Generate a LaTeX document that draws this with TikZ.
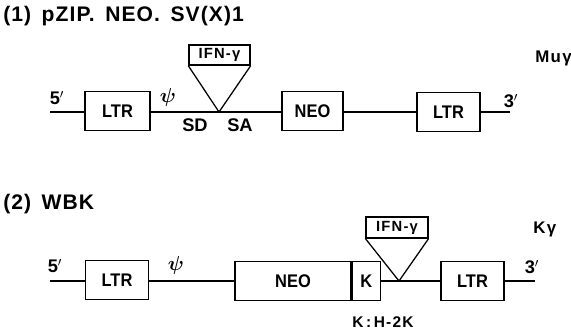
\documentclass[tikz,border=0pt]{standalone}
\usepackage{amsmath}
\usepackage{fontspec}
\setmainfont{Liberation Sans}
\newfontfamily\boxfont{Liberation Sans}[FakeStretch=0.9]
\newfontfamily\widefont{Liberation Sans}[LetterSpace=8]
\newfontfamily\titlefont{Liberation Sans}[LetterSpace=5]
\usetikzlibrary{positioning}

\tikzset{
  genebox/.style={draw, line width=0.9pt, minimum height=0.96cm, inner sep=0pt, font=\boxfont\bfseries\fontsize{13}{15}\selectfont},
  insertbox/.style={draw, line width=0.9pt, minimum width=1.53cm, minimum height=0.5cm, inner sep=0pt, font=\widefont\bfseries\fontsize{10.5}{12}\selectfont},
  dna/.style={line width=0.9pt},
  lbl/.style={inner sep=0pt, font=\bfseries\fontsize{13}{15}\selectfont},
  title/.style={inner sep=0pt, anchor=west, font=\titlefont\bfseries\fontsize{15}{17}\selectfont},
  tag/.style={inner sep=0pt, font=\widefont\bfseries\fontsize{12}{14}\selectfont}
}

\begin{document}
\begin{tikzpicture}[x=0.025cm, y=-0.025cm]
  \useasboundingbox (0,0) rectangle (571,335);

  % (1) pZIP.NEO.SV(X)1
  \node[title] (titleA) at (3,16) {(1)\enspace pZIP.\enspace NEO.\enspace SV(X)1};
  \node[tag, anchor=west] (nameA) at (535,58) {Muγ};

  \coordinate (startA) at (50,112);
  \coordinate (endA) at (510,112);
  \coordinate (apexA) at (219,112);
  \node[genebox, minimum width=1.62cm] (ltrA) at (117.5,111) {LTR};
  \node[genebox, minimum width=1.52cm] (neoA) at (312.5,111) {NEO};
  \node[genebox, minimum width=1.57cm] (ltrB) at (448.5,112) {LTR};
  \node[insertbox] (ifnA) at (219.5,55) {IFN-γ};

  \draw[dna] (startA) -- (ltrA.west |- startA);
  \draw[dna] (ltrA.east |- startA) -- (neoA.west |- startA);
  \draw[dna] (neoA.east |- startA) -- (ltrB.west |- startA);
  \draw[dna] (ltrB.east |- startA) -- (endA);
  \draw[line width=0.9pt] (ifnA.south west) -- (apexA) -- (ifnA.south east);

  \node[lbl] (fiveA) at (57,98) {5$'$};
  \node[lbl] (threeA) at (511,101) {3$'$};
  \node[lbl, font=\fontsize{15}{17}\selectfont] (psiA) at (168,97) {$\boldsymbol{\psi}$};
  \node[lbl] (sd) at (195,125) {SD};
  \node[lbl] (sa) at (240,125) {SA};

  % (2) WBK
  \node[title] (titleB) at (3,204) {(2)\enspace WBK};
  \node[tag, anchor=west] (nameB) at (533,229) {Kγ};

  \coordinate (startB) at (50,281);
  \coordinate (endB) at (535,281);
  \coordinate (apexB) at (399,281);
  \node[genebox, minimum width=1.57cm] (ltrC) at (117,280) {LTR};
  \node[genebox, minimum width=2.9cm] (neoB) at (293,281) {NEO};
  \node[genebox, minimum width=0.7cm, right=0pt of neoB] (kB) {K};
  \node[genebox, minimum width=1.57cm] (ltrD) at (472.5,281) {LTR};
  \node[insertbox, minimum width=1.55cm, minimum height=0.52cm] (ifnB) at (397,227.5) {IFN-γ};

  \draw[dna] (startB) -- (ltrC.west |- startB);
  \draw[dna] (ltrC.east |- startB) -- (neoB.west |- startB);
  \draw[dna] (kB.east |- startB) -- (ltrD.west |- startB);
  \draw[dna] (ltrD.east |- startB) -- (endB);
  \draw[line width=0.9pt] (ifnB.south west) -- (apexB) -- (ifnB.south east);

  \node[lbl] (fiveB) at (55,266) {5$'$};
  \node[lbl] (threeB) at (532,267) {3$'$};
  \node[lbl, font=\fontsize{15}{17}\selectfont] (psiB) at (176,265) {$\boldsymbol{\psi}$};
  \node[tag, font=\widefont\bfseries\fontsize{11}{13}\selectfont] (keyB) at (383,322) {K\,:\,H-2K};
\end{tikzpicture}
\end{document}
